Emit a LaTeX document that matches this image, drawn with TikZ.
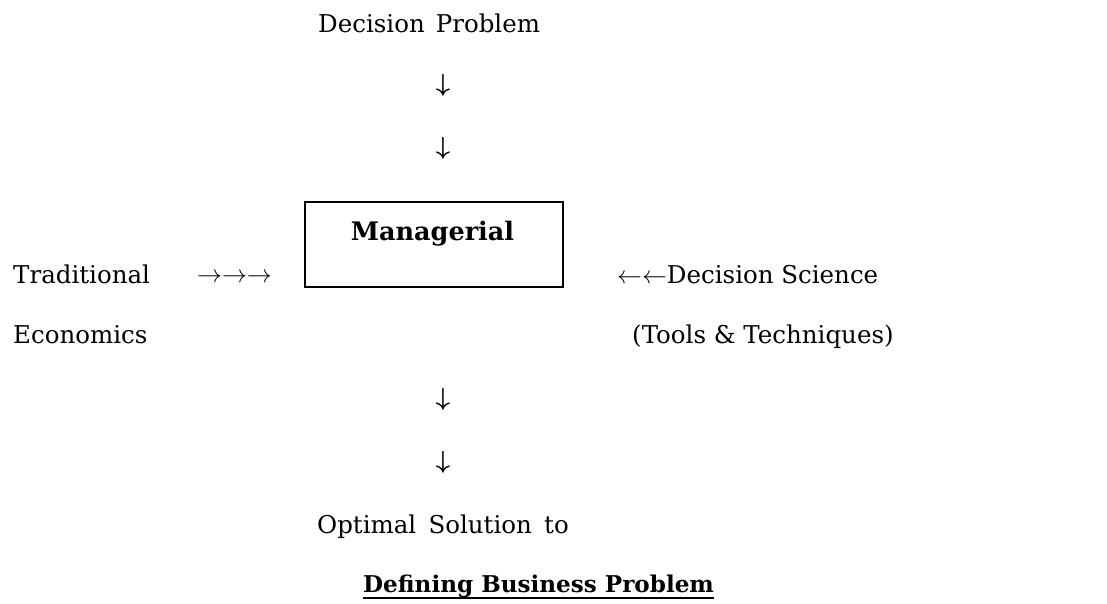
\documentclass[tikz,border=0pt]{standalone}
\usepackage{fontspec}
\setmainfont{DejaVu Serif}
\begin{document}
\begin{tikzpicture}[x=1pt,y=-1pt,
  txt/.style={inner sep=0pt, anchor=base west, font=\fontsize{24.5}{29}\selectfont},
  btxt/.style={inner sep=0pt, anchor=base west, font=\fontsize{23.1}{28}\selectfont\bfseries},
  arr/.style={inner sep=0pt, anchor=center, font=\fontsize{24}{28}\selectfont\boldmath},
  mbox/.style={draw, line width=1.2pt, minimum width=258pt, minimum height=85pt, inner sep=0pt}]
\useasboundingbox (0,0) rectangle (1107,603);
\node[txt] (dp) at (318,32) {Decision\hspace{0.45em}Problem};
\node[arr] (a1) at (443,85.5) {$\downarrow$};
\node[arr] (a2) at (443,148) {$\downarrow$};
\node[mbox] (mgr) at (434,244.5) {};
\node[inner sep=0pt, anchor=base, font=\fontsize{25.5}{30}\selectfont\bfseries] (mgrt) at (432.5,240) {Managerial};
\node[txt] (trad) at (13,283) {Traditional};
\node[txt, font=\fontsize{24}{28}\selectfont] (rarr) at (197,282) {$\rightarrow\rightarrow\rightarrow$};
\node[txt] (ds) at (617,283) {{\fontsize{24}{28}\selectfont$\leftarrow\leftarrow$}Decision Science};
\node[txt] (econ) at (13,343) {Economics};
\node[txt] (tools) at (632,343) {(Tools \& Techniques)};
\node[arr] (a3) at (443,399.5) {$\downarrow$};
\node[arr] (a4) at (443,462) {$\downarrow$};
\node[txt] (opt) at (317,533) {Optimal\hspace{0.5em}Solution\hspace{0.5em}to};
\node[btxt] (def) at (363,592) {Defining Business Problem};
\draw[line width=1.6pt] ([yshift=-6pt]def.base west) -- ([yshift=-6pt]def.base east);
\end{tikzpicture}
\end{document}
